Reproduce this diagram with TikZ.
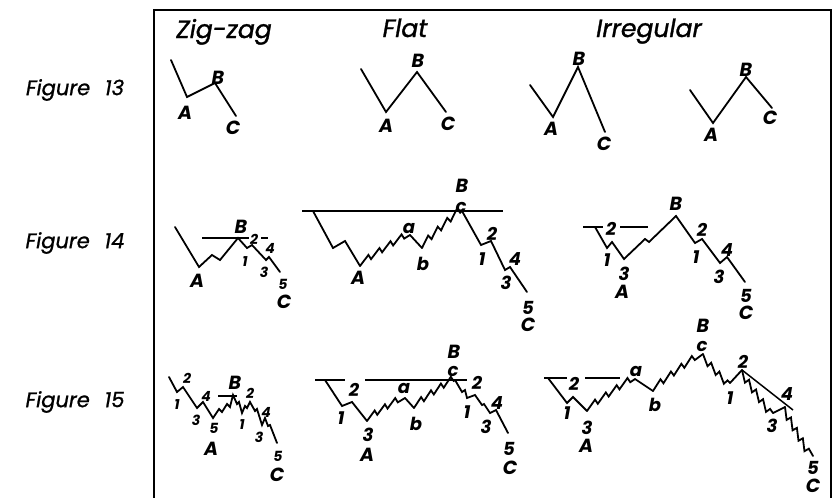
\documentclass[tikz,border=0pt]{standalone}
\usepackage{fontspec}
\setmainfont{Poppins}
\usetikzlibrary{decorations.pathmorphing}
\tikzset{
  % waves
  wave/.style={line width=1.8pt,line join=miter,line cap=round},
  rule/.style={line width=1.5pt},
  rise/.style={wave,decorate,decoration={saw,segment length=#1,amplitude=5pt}},
  fall/.style={wave,decorate,decoration={saw,segment length=#1,amplitude=-5pt}},
  rise/.default=13pt, fall/.default=12pt,
  % labels
  head/.style={font=\fontsize{25}{25}\selectfont\itshape\addfontfeature{FakeBold=1.2},
    inner sep=0pt,anchor=base},
  fig/.style={font=\fontsize{21}{21}\selectfont\itshape\addfontfeature{FakeBold=1},inner sep=0pt},
  ltr/.style={font=\fontsize{19}{19}\selectfont\bfseries\itshape,inner sep=0pt},
  dig/.style={font=\fontsize{18}{18}\selectfont\bfseries\itshape,inner sep=0pt},
  sdig/.style={font=\fontsize{14}{14}\selectfont\bfseries\itshape,inner sep=0pt},
  low/.style={font=\fontsize{18}{18}\selectfont\bfseries\itshape,inner sep=0pt},
}
\begin{document}
\begin{tikzpicture}[x=1pt,y=-1pt]
  \useasboundingbox (0,0) rectangle (836,498);
  \draw[line width=1.6pt] (154,498) -- (154,10) -- (831,10) -- (831,498);
  \node[head] (hzig) at (224,38) {Zig-zag};
  \node[head] (hflat) at (405,37) {Flat};
  \node[head] (hirr) at (649,37) {Irregular};
  \foreach \n/\y/\t in {f13/90/13,f14/243/14,f15/402/15}
    \node[fig] (\n) at (75,\y) {Figure\hspace{0.7em}\t};

  % Figure 13
  \draw[wave] (171,60) -- (187,97) -- (215,83) -- (236,116);
  \draw[wave] (361,69) -- (386,112) -- (417,72) -- (446,112);
  \draw[wave] (530,85) -- (553,117) -- (578,67) -- (605,132);
  \draw[wave] (690,90) -- (713,123) -- (746,77) -- (772,108);

  % Figure 14
  \draw[wave] (175,227) -- (199,267) -- (212,255) -- (220,260) -- (238,238) -- (247,248)
    -- (252,245) -- (266,260) -- (269,257) -- (280,272);
  \draw[rule] (202,238) -- (249,238);
  \draw[rule] (261,238) -- (268,238);
  \draw[rule] (302,211) -- (503,211);
  \draw[wave] (313,211) -- (333,248) -- (345,241) -- (360,266);
  \draw[rise] (360,266) -- (410,235);
  \draw[wave] (410,235) -- (422,248);
  \draw[rise] (422,248) -- (462,211);
  \draw[wave] (462,211) -- (481,245) -- (491,241) -- (505,270) -- (510,267) -- (527,292);
  \draw[rule] (583,227) -- (603,227);
  \draw[rule] (620,227) -- (648,227);
  \draw[wave] (595,227) -- (607,248) -- (612,242) -- (624,259) -- (645,239) -- (649,242)
    -- (676,216) -- (695,243) -- (702,239) -- (720,263) -- (727,257) -- (745,282);

  % Figure 15
  \draw[rule] (218,396) -- (237,396);
  \draw[wave] (169,377) -- (177,392) -- (183,387) -- (197,408) -- (203,402) -- (213,418)
    -- (219,409) -- (222,412) -- (227,404) -- (230,407) -- (233,395) -- (237,404) -- (239,402)
    -- (242,413) -- (245,406) -- (247,408) -- (250,402) -- (255,411) -- (257,409) -- (262,425)
    -- (265,418) -- (268,426) -- (270,425) -- (277,443);
  \draw[rule] (315,380) -- (345,380);
  \draw[rule] (365,380) -- (467,380);
  \draw[wave] (325,380) -- (342,406) -- (352,402) -- (367,421);
  \draw[rise=12pt] (367,421) -- (405,398);
  \draw[wave] (405,398) -- (414,408);
  \draw[rise=12pt] (414,408) -- (455,380);
  \draw[wave] (455,380) -- (462,392) -- (465,390) -- (467,398) -- (475,395) -- (482,405)
    -- (484,404) -- (490,413) -- (496,410) -- (508,433);
  \draw[rule] (544,378) -- (567,378);
  \draw[rule] (585,378) -- (620,378);
  \draw[wave] (548,378) -- (567,403) -- (573,397) -- (587,411);
  \draw[rise] (587,411) -- (635,379);
  \draw[wave] (635,379) -- (653,391);
  \draw[rise] (653,391) -- (703,354);
  \draw[fall] (703,354) -- (730,383);
  \draw[wave] (730,383) -- (742,370);
  \draw[fall] (742,370) -- (773,413);
  \draw[wave] (773,413) -- (785,407);
  \draw[fall] (785,407) -- (813,456);
  \draw[rule] (742,370) -- (793,410);

  % wave labels
  \foreach \n/\x/\y/\t in {za13/185/113/A,zb13/218/78/B,zc13/233/128/C,
      fa13/386/126/A,fb13/418/61/B,fc13/448/124/C,ia13/551/129/A,ib13/579/59/B,ic13/604/144/C,
      ja13/711/135/A,jb13/746/70/B,jc13/770/118/C,
      za14/197/281/A,zb14/241/227/B,zc14/284/302/C,fa14/358/278/A,fb14/462/186/B,fc14/528/325/C,
      ia14/622/292/A,ib14/676/204/B,ic14/746/313/C,
      za15/211/449/A,zb15/235/383/B,zc15/277/475/C,fa15/367/455/A,fb15/454/352/B,fc15/510/468/C,
      ia15/586/446/A,ib15/703/326/B,ic15/813/486/C}
    \node[ltr] (\n) at (\x,\y) {\t};
  \foreach \n/\x/\y/\t in {fb14a/492/234/2,fb14b/482/259/1,fb14c/515/259/4,fb14d/506/283/3,
      fb14e/528/308/5,ia14a/611/229/2,ia14b/607/260/1,ia14c/624/274/3,ic14a/702/230/2,
      ic14b/696/257/1,ic14c/727/250/4,ic14d/719/277/3,ic14e/746/296/5,
      fa15a/354/390/2,fa15b/341/418/1,fa15c/368/435/3,fc15a/477/383/2,fc15b/467/412/1,
      fc15c/497/403/4,fc15d/486/427/3,fc15e/509/449/5,ia15a/574/384/2,ia15b/567/413/1,
      ia15c/587/428/3,ic15a/743/362/2,ic15b/730/398/1,ic15c/787/394/4,ic15d/772/426/3,
      ic15e/813/468/5}
    \node[dig] (\n) at (\x,\y) {\t};
  \foreach \n/\x/\y/\t in {zc14a/254/239/2,zc14b/245/262/1,zc14c/264/272/3,zc14d/270/248/4,
      zc14e/283/284/5,za15a/177/405/1,za15b/187/378/2,za15c/196/420/3,za15d/206/396/4,
      za15e/214/428/5,zc15a/250/393/2,zc15b/242/425/1,zc15c/266/412/4,zc15d/259/437/3,
      zc15e/278/456/5}
    \node[sdig] (\n) at (\x,\y) {\t};
  \foreach \n/\x/\y/\t in {fb14x/409/228/a,fb14y/423/264/b,fb14z/461/207/c,
      fb15x/404/388/a,fb15y/416/424/b,fb15z/453/371/c,ib15x/636/371/a,ib15y/655/405/b,
      ib15z/702/346/c}
    \node[low] (\n) at (\x,\y) {\t};
\end{tikzpicture}
\end{document}
